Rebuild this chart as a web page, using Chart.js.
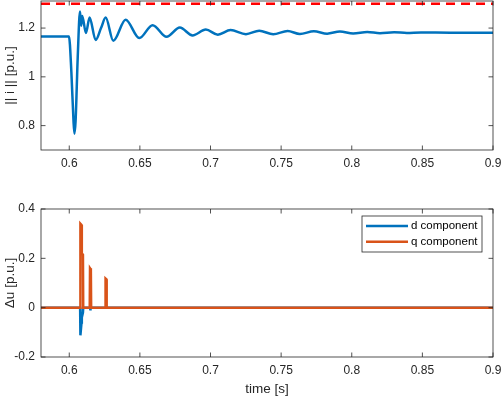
<!DOCTYPE html>
<html>
<head>
<meta charset="utf-8">
<script src="https://cdn.jsdelivr.net/npm/chart.js@4/dist/chart.umd.min.js"></script>
<style>
  body { margin: 0; background: #fff; }
  .box { position: absolute; left: 0; width: 503px; }
  #top { top: 0; height: 180px; }
  #bot { top: 180px; height: 217px; }
</style>
</head>
<body>
<div class="box" id="top"><canvas id="c1"></canvas></div>
<div class="box" id="bot"><canvas id="c2"></canvas></div>
<script>
// values
const xTicks = [0.6, 0.65, 0.7, 0.75, 0.8, 0.85, 0.9];
const currentTicks = [0.8, 1, 1.2];
const duTicks = [-0.2, 0, 0.2, 0.4];

const currentTime = [0.58, 0.5998, 0.6015, 0.603, 0.6037, 0.6045, 0.606, 0.6076, 0.6085, 0.6092,
    0.6118, 0.6144, 0.6187, 0.6225, 0.6258, 0.6312, 0.6399, 0.6496, 0.659, 0.6689, 0.6783,
    0.6873, 0.6967, 0.7052, 0.7142, 0.7251, 0.7345, 0.7444, 0.7546, 0.7633, 0.7732, 0.7826,
    0.7916, 0.801, 0.811, 0.82, 0.83, 0.839, 0.849, 0.87, 0.9];
const currentNorm = [1.165, 1.165, 1.02, 0.82, 0.767, 0.82, 1.08, 1.268, 1.21, 1.25,
    1.18, 1.243, 1.151, 1.2, 1.243, 1.148, 1.234, 1.159, 1.212, 1.164, 1.202,
    1.17, 1.194, 1.173, 1.192, 1.175, 1.189, 1.175, 1.188, 1.176, 1.187, 1.177,
    1.186, 1.178, 1.184, 1.179, 1.183, 1.18, 1.182, 1.181, 1.181];
const limitTime = [0.58, 0.9];
const limitValue = [1.3, 1.3];

const dTime = [0.58, 0.6077, 0.6079, 0.6087, 0.6089, 0.6097, 0.6099, 0.6147, 0.6149, 0.6152, 0.9];
const dComp = [0, 0, -0.112, -0.06, -0.04, -0.02, 0, 0, -0.011, 0, 0];
const qTime = [0.58, 0.6077, 0.6079, 0.6087, 0.6089, 0.6097, 0.6099, 0.6145, 0.6147, 0.6153,
    0.6155, 0.6255, 0.6257, 0.6263, 0.6265, 0.9];
const qComp = [0, 0, 0.34, 0.335, 0.22, 0.215, 0, 0, 0.16, 0.155, 0, 0, 0.118, 0.115, 0, 0];

const blue = "#0072BD";
const orange = "#D95319";
const axisColor = "#262626";
const family = "'Liberation Sans', Arial, sans-serif";
const tickFont = { family: family, size: 12 };
const titleFont = { family: family, size: 13.5 };

function pts(xs, ys) {
    return xs.map((x, i) => ({ x: x, y: ys[i] }));
}

function fmt(v) {
    return String(Math.round(v * 100) / 100);
}

// MATLAB style box with inward ticks on all four sides
const frame = {
    id: "frame",
    afterDatasetsDraw(chart) {
        const ctx = chart.ctx;
        const a = chart.chartArea;
        const xs = chart.scales.x, ys = chart.scales.y;
        const len = 4.5;
        ctx.save();
        ctx.strokeStyle = axisColor;
        ctx.lineWidth = 0.8;
        ctx.strokeRect(a.left, a.top, a.right - a.left, a.bottom - a.top);
        ctx.beginPath();
        xs.ticks.forEach(t => {
            const px = xs.getPixelForValue(t.value);
            ctx.moveTo(px, a.bottom); ctx.lineTo(px, a.bottom - len);
            ctx.moveTo(px, a.top); ctx.lineTo(px, a.top + len);
        });
        ys.ticks.forEach(t => {
            const py = ys.getPixelForValue(t.value);
            ctx.moveTo(a.left, py); ctx.lineTo(a.left + len, py);
            ctx.moveTo(a.right, py); ctx.lineTo(a.right - len, py);
        });
        ctx.stroke();
        ctx.restore();
    }
};

// legend box in the upper right corner of the lower axes
const boxLegend = {
    id: "boxLegend",
    afterDraw(chart) {
        const ctx = chart.ctx;
        const a = chart.chartArea;
        const w = 120, h = 36;
        const x0 = a.right - 11 - w, y0 = a.top + 7;
        ctx.save();
        ctx.fillStyle = "#fff";
        ctx.fillRect(x0, y0, w, h);
        ctx.strokeStyle = axisColor;
        ctx.lineWidth = 0.8;
        ctx.strokeRect(x0, y0, w, h);
        ctx.font = "11.5px " + family;
        ctx.textBaseline = "middle";
        chart.data.datasets.forEach((ds, i) => {
            const y = y0 + 10 + i * 15.7;
            ctx.strokeStyle = ds.borderColor;
            ctx.lineWidth = 2.5;
            ctx.beginPath();
            ctx.moveTo(x0 + 4, y);
            ctx.lineTo(x0 + 46, y);
            ctx.stroke();
            ctx.fillStyle = "#000";
            ctx.fillText(ds.label, x0 + 49, y);
        });
        ctx.restore();
    }
};

function xScale(withTitle, height) {
    return {
        type: "linear",
        min: 0.58,
        max: 0.9,
        afterBuildTicks: s => { s.ticks = xTicks.map(v => ({ value: v })); },
        afterFit: s => { s.height = height; s.paddingLeft = 0; s.paddingRight = 0; },
        grid: { display: false, drawTicks: false },
        border: { display: false },
        ticks: { color: axisColor, font: tickFont, padding: 6, maxRotation: 0, callback: fmt },
        title: withTitle
            ? { display: true, text: "time [s]", color: axisColor, font: titleFont, padding: 0 }
            : { display: false }
    };
}

function yScale(min, max, tickList, title) {
    return {
        type: "linear",
        min: min,
        max: max,
        afterBuildTicks: s => { s.ticks = tickList.map(v => ({ value: v })); },
        afterFit: s => { s.width = 41; s.paddingTop = 0; s.paddingBottom = 0; },
        grid: { display: false, drawTicks: false },
        border: { display: false },
        ticks: { color: axisColor, font: tickFont, padding: 6, callback: fmt },
        title: { display: true, text: title, color: axisColor, font: titleFont, padding: { top: 2, bottom: 0 } }
    };
}

const common = {
    responsive: true,
    maintainAspectRatio: false,
    animation: false,
    events: [],
    plugins: { legend: { display: false }, tooltip: { enabled: false } },
    elements: { point: { radius: 0 } }
};

new Chart(document.getElementById("c1"), {
    type: "line",
    data: {
        datasets: [
            {
                label: "limit",
                data: pts(limitTime, limitValue),
                borderColor: "#FF0000",
                borderWidth: 2.5,
                borderDash: [9, 6]
            },
            {
                label: "|| i ||",
                data: pts(currentTime, currentNorm),
                borderColor: blue,
                borderWidth: 2.5,
                cubicInterpolationMode: "monotone"
            }
        ]
    },
    options: Object.assign({}, common, {
        layout: { padding: { left: 0, right: 10, top: 1, bottom: 0 } },
        scales: {
            x: xScale(false, 30),
            y: yScale(0.7, 1.311, currentTicks, "|| i || [p.u.]")
        }
    }),
    plugins: [frame]
});

new Chart(document.getElementById("c2"), {
    type: "line",
    data: {
        datasets: [
            {
                label: "d component",
                data: pts(dTime, dComp),
                borderColor: blue,
                borderWidth: 2.5,
                order: 1
            },
            {
                label: "q component",
                data: pts(qTime, qComp),
                borderColor: orange,
                borderWidth: 2.5,
                order: 0
            }
        ]
    },
    options: Object.assign({}, common, {
        layout: { padding: { left: 0, right: 10, top: 29, bottom: 0 } },
        scales: {
            x: xScale(true, 40),
            y: yScale(-0.2, 0.4, duTicks, "\u0394u [p.u.]")
        }
    }),
    plugins: [frame, boxLegend]
});
</script>
</body>
</html>
